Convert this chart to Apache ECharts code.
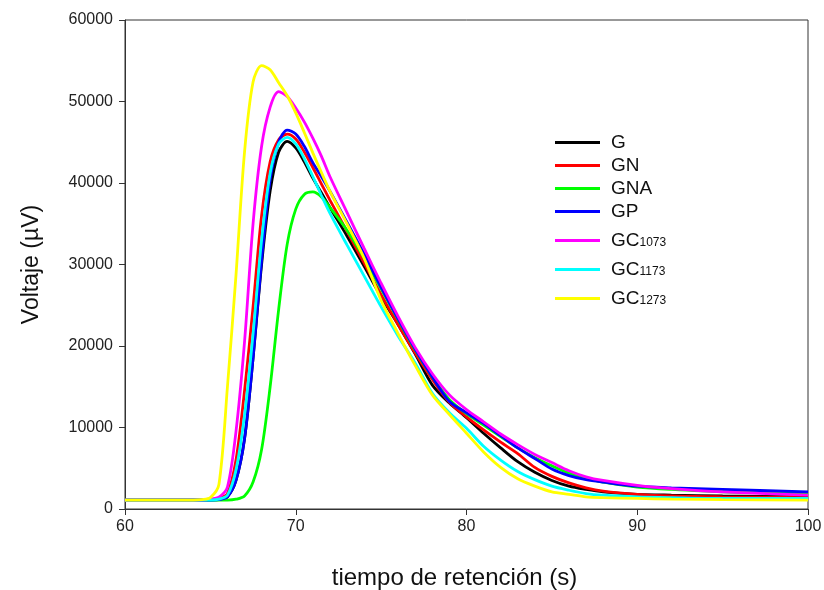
<!DOCTYPE html>
<html>
<head>
<meta charset="utf-8">
<script src="https://cdn.jsdelivr.net/npm/echarts@6/dist/echarts.min.js"></script>
<style>
  html, body { margin: 0; padding: 0; background: #fff; }
  #chart { width: 824px; height: 590px; }
</style>
</head>
<body>
<div id="chart"></div>
<script>
// Retention time grid (s)
var times = [60, 63, 64, 64.5, 65, 65.5, 66, 66.5, 67, 67.5, 68, 68.5, 69, 69.5, 70, 70.5, 71, 71.5, 72, 73, 74, 75, 76, 77, 78, 79, 80, 81, 82, 83, 84, 85, 86, 87, 88, 90, 92, 95, 100];

// Detector voltage (µV) for each sample
var sG      = [1100, 1100, 1100, 1100, 1100, 1150, 1500, 3500, 8600, 18500, 30000, 39000, 43800, 45100, 44300, 42600, 40600, 38800, 37000, 33500, 29800, 26000, 22600, 19000, 15200, 13000, 11200, 9300, 7500, 5800, 4500, 3500, 2800, 2400, 2100, 1800, 1700, 1600, 1500];
var sGN     = [1100, 1100, 1100, 1100, 1150, 1300, 1900, 6000, 14500, 24800, 36000, 42600, 45300, 46000, 45400, 43800, 41900, 39900, 37900, 34100, 30200, 26300, 22600, 19100, 15900, 13100, 11300, 9700, 8200, 6800, 5100, 4000, 3200, 2600, 2200, 1800, 1600, 1500, 1400];
var sGNA    = [1100, 1100, 1100, 1100, 1100, 1100, 1100, 1200, 1600, 3300, 7300, 15000, 24500, 32500, 36800, 38600, 38900, 38300, 37000, 34200, 30800, 27000, 23200, 19500, 16200, 13400, 11700, 10300, 8900, 7500, 6300, 5300, 4400, 3800, 3300, 2700, 2400, 2100, 1900];
var sGP     = [1100, 1100, 1100, 1100, 1100, 1150, 1500, 3500, 8600, 18500, 30500, 40400, 45000, 46500, 46000, 44500, 42500, 40800, 39000, 35200, 31300, 27200, 23300, 19600, 16200, 13200, 11800, 10500, 9000, 7500, 6200, 4900, 4100, 3600, 3300, 2800, 2600, 2400, 2100];
var sGC1073 = [1100, 1100, 1100, 1100, 1200, 1450, 2700, 9500, 20500, 35000, 44500, 49300, 51200, 50600, 49200, 47500, 45500, 43300, 40800, 36400, 32000, 27700, 23600, 19800, 16600, 14000, 12200, 10700, 9200, 7900, 6700, 5700, 4700, 3950, 3500, 2900, 2500, 2100, 1700];
var sGC1173 = [1100, 1100, 1100, 1100, 1100, 1200, 1700, 4800, 11500, 21500, 33000, 41200, 44800, 45600, 44800, 43000, 40800, 38500, 36300, 32400, 28600, 24800, 21200, 17900, 14200, 11800, 9900, 7700, 6000, 4600, 3600, 2800, 2300, 1900, 1700, 1500, 1400, 1300, 1300];
var sGC1273 = [1100, 1100, 1100, 1150, 1400, 3000, 15000, 28700, 43800, 52400, 54400, 53900, 52300, 50700, 48600, 46200, 43700, 41300, 39000, 35000, 30800, 25600, 21500, 17600, 14000, 11600, 9300, 7000, 5100, 3700, 2800, 2100, 1800, 1500, 1400, 1300, 1200, 1150, 1100];

// Legend entries: [base, subscript]
var names = [['G', ''], ['GN', ''], ['GNA', ''], ['GP', ''], ['GC', '1073'], ['GC', '1173'], ['GC', '1273']];
var values = [sG, sGN, sGNA, sGP, sGC1073, sGC1173, sGC1273];
var colors = ['#000000', '#ff0000', '#00ff00', '#0000ff', '#ff00ff', '#00ffff', '#ffff00'];

// Axis ticks
var yTicks = [0, 10000, 20000, 30000, 40000, 50000, 60000];
var xTicks = [60, 70, 80, 90, 100];

var FONT = 'Liberation Sans, Arial, sans-serif';

var seriesList = values.map(function (arr, k) {
  return {
    name: names[k][0] + names[k][1],
    type: 'line',
    data: times.map(function (t, i) { return [t, arr[i]]; }),
    showSymbol: false,
    smooth: 0.3,
    lineStyle: { color: colors[k], width: 2.8 },
    itemStyle: { color: colors[k] },
    z: 2 + k
  };
});

var chart = echarts.init(document.getElementById('chart'), null, { renderer: 'canvas' });
chart.setOption({
  animation: false,
  backgroundColor: '#ffffff',
  grid: {
    left: 125, right: 16, top: 20, bottom: 81,
    outerBoundsMode: 'none',
    containLabel: false,
    show: true, borderColor: '#333', borderWidth: 1, backgroundColor: 'transparent'
  },
  xAxis: {
    type: 'value',
    min: xTicks[0], max: xTicks[xTicks.length - 1], interval: 10,
    name: 'tiempo de retención (s)',
    nameLocation: 'middle', nameGap: 57,
    nameTextStyle: { fontFamily: FONT, fontSize: 24, color: '#111', padding: [0, 24, 0, 0] },
    axisLine: { show: true, lineStyle: { color: '#333', width: 1 } },
    axisTick: { show: true, length: 6, lineStyle: { color: '#333' } },
    axisLabel: { fontFamily: FONT, fontSize: 16, color: '#222', margin: 10 },
    splitLine: { show: false }
  },
  yAxis: {
    type: 'value',
    min: yTicks[0], max: yTicks[yTicks.length - 1], interval: 10000,
    name: 'Voltaje (\u00b5V)',
    nameLocation: 'middle', nameGap: 82,
    nameTextStyle: { fontFamily: FONT, fontSize: 23, color: '#111' },
    axisLine: { show: true, lineStyle: { color: '#333', width: 1 } },
    axisTick: { show: true, length: 6, lineStyle: { color: '#333' } },
    axisLabel: { fontFamily: FONT, fontSize: 16, color: '#222', margin: 12,
      formatter: function (v) { return String(v); } },
    splitLine: { show: false }
  },
  legend: {
    orient: 'vertical',
    left: 550, top: 128,
    itemWidth: 45, itemHeight: 3, itemGap: 4,
    icon: 'rect',
    data: seriesList.map(function (s) { return s.name; }),
    formatter: function (n) {
      for (var i = 0; i < names.length; i++) {
        if (names[i][0] + names[i][1] === n) {
          return names[i][1] ? '{b|' + names[i][0] + '}{s|' + names[i][1] + '}' : '{b|' + n + '}';
        }
      }
      return n;
    },
    textStyle: {
      fontFamily: FONT, color: '#111',
      rich: {
        b: { fontFamily: FONT, fontSize: 19, color: '#111', lineHeight: 17, padding: [0, 0, 0, 6] },
        s: { fontFamily: FONT, fontSize: 12, color: '#111', verticalAlign: 'bottom', lineHeight: 12, padding: [12, 0, 0, 0] }
      }
    }
  },
  series: seriesList
});
</script>
</body>
</html>
